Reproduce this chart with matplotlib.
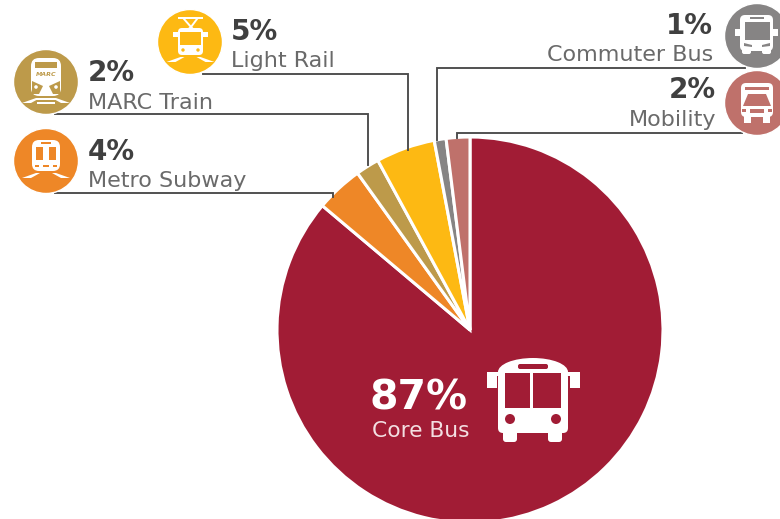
import matplotlib
matplotlib.use("Agg")
import matplotlib.pyplot as plt
from matplotlib.patches import Circle, Ellipse, Rectangle, FancyBboxPatch, Polygon

plt.rcParams['font.family'] = ['DejaVu Sans']

categories = ["Core Bus", "Metro Subway", "MARC Train", "Light Rail", "Commuter Bus", "Mobility"]
values = [87, 4, 2, 5, 1, 2]
colors = ["#a11c35", "#ee8727", "#bd9a4a", "#fdb913", "#868484", "#bf716b"]

LINE = "#4a4a4a"
DARK = "#404040"
GREY = "#6a6a6a"


def rrect(ax, x0, y0, x1, y1, r, color, z=5):
    ax.add_patch(FancyBboxPatch((x0 + r, y0 + r), x1 - x0 - 2 * r, y1 - y0 - 2 * r,
                                boxstyle="round,pad=%f,rounding_size=%f" % (r, r),
                                fc=color, ec="none", zorder=z))


def rect(ax, x0, y0, x1, y1, color, z=5):
    ax.add_patch(Rectangle((x0, y0), x1 - x0, y1 - y0, fc=color, ec="none", zorder=z))


def tracks(ax, cx, y0, y1, c="white"):
    # little rails under the train icons
    ax.add_patch(Polygon([(cx - 10, y0), (cx - 6, y0), (cx - 15, y1), (cx - 24, y1)], fc=c, ec="none", zorder=5))
    ax.add_patch(Polygon([(cx + 10, y0), (cx + 6, y0), (cx + 15, y1), (cx + 24, y1)], fc=c, ec="none", zorder=5))


def big_bus(ax):
    w = "white"
    c = colors[0]
    ax.add_patch(Ellipse((533, 372), 70, 28, fc=w, ec="none", zorder=5))
    rrect(ax, 498, 372, 568, 433, 5, w, 5)
    rrect(ax, 503, 425, 517, 442, 3, w, 5)
    rrect(ax, 548, 425, 562, 442, 3, w, 5)
    rect(ax, 487, 372, 497, 388, w)
    rect(ax, 570, 372, 580, 388, w)
    rect(ax, 495, 372, 500, 376, w)
    rect(ax, 567, 372, 572, 376, w)
    rect(ax, 505, 373, 530, 408, c, 6)
    rect(ax, 533, 373, 561, 408, c, 6)
    rrect(ax, 518, 364, 548, 369, 2, c, 6)
    ax.add_patch(Circle((510, 419), 5, fc=c, ec="none", zorder=6))
    ax.add_patch(Circle((556, 419), 5, fc=c, ec="none", zorder=6))


def light_rail_icon(ax, cx, cy):
    w = "white"
    c = colors[3]
    rect(ax, cx - 12, cy - 25, cx + 13, cy - 23, w)
    ax.plot([cx - 6, cx + 1, cx + 7], [cy - 23, cy - 15, cy - 23], color=w, lw=1.4, zorder=5)
    ax.plot([cx - 4, cx + 1, cx + 5], [cy - 11, cy - 15, cy - 11], color=w, lw=1.4, zorder=5)
    rrect(ax, cx - 12, cy - 14, cx + 13, cy + 13, 4, w)
    rect(ax, cx - 17, cy - 10, cx - 12, cy - 5, w)
    rect(ax, cx + 13, cy - 10, cx + 18, cy - 5, w)
    rect(ax, cx - 10, cy - 10, cx + 11, cy + 3, c, 6)
    ax.add_patch(Circle((cx - 7, cy + 8), 1.7, fc=c, ec="none", zorder=6))
    ax.add_patch(Circle((cx + 8, cy + 8), 1.7, fc=c, ec="none", zorder=6))
    tracks(ax, cx + 0.5, cy + 15, cy + 20)


def marc_icon(ax, cx, cy):
    w = "white"
    c = colors[2]
    rrect(ax, cx - 15, cy - 24, cx + 15, cy + 14, 8, w)
    rect(ax, cx - 11, cy - 20, cx + 11, cy - 14, c, 6)
    ax.text(cx + 0.5, cy - 8, "MARC", color=c, fontsize=4.5, fontweight="bold", style="italic",
            ha="center", va="center", zorder=7)
    ax.add_patch(Polygon([(cx - 14, cy - 1), (cx - 3, cy + 4), (cx - 7, cy + 12), (cx - 14, cy + 12)], fc=c, ec="none", zorder=6))
    ax.add_patch(Polygon([(cx + 14, cy - 1), (cx + 3, cy + 4), (cx + 7, cy + 12), (cx + 14, cy + 12)], fc=c, ec="none", zorder=6))
    ax.add_patch(Circle((cx - 10, cy + 5), 1.8, fc=w, ec="none", zorder=7))
    ax.add_patch(Circle((cx + 10, cy + 5), 1.8, fc=w, ec="none", zorder=7))
    rect(ax, cx - 10, cy + 16, cx + 10, cy + 18, w)
    rect(ax, cx - 9, cy + 20, cx + 9, cy + 21.5, w)
    tracks(ax, cx, cy + 16, cy + 21)


def subway_icon(ax, cx, cy):
    w = "white"
    c = colors[1]
    rrect(ax, cx - 14, cy - 21, cx + 14, cy + 10, 7, w)
    rect(ax, cx - 10, cy - 14, cx - 3, cy - 1, c, 6)
    rect(ax, cx + 3, cy - 14, cx + 10, cy - 1, c, 6)
    rect(ax, cx - 5, cy - 19, cx + 5, cy - 17, c, 6)
    rect(ax, cx - 11, cy + 4, cx - 7, cy + 6, c, 6)
    rect(ax, cx + 7, cy + 4, cx + 11, cy + 6, c, 6)
    rect(ax, cx - 3, cy + 4, cx + 3, cy + 6, c, 6)
    tracks(ax, cx, cy + 12, cy + 17)


def commuter_icon(ax, cx, cy):
    w = "white"
    c = colors[4]
    rrect(ax, cx - 17, cy - 21, cx + 16, cy + 15, 5, w)
    rrect(ax, cx - 15, cy + 10, cx - 6, cy + 18, 2, w)
    rrect(ax, cx + 5, cy + 10, cx + 14, cy + 18, 2, w)
    rect(ax, cx - 22, cy - 7, cx - 17, cy, w)
    rect(ax, cx + 16, cy - 7, cx + 21, cy, w)
    rect(ax, cx - 12, cy - 14, cx + 13, cy + 4, c, 6)
    rect(ax, cx - 7, cy - 19, cx + 7, cy - 17, c, 6)
    ax.add_patch(Polygon([(cx - 13, cy + 7), (cx - 5, cy + 9), (cx - 5, cy + 11), (cx - 13, cy + 10)], fc=c, ec="none", zorder=6))
    ax.add_patch(Polygon([(cx + 13, cy + 7), (cx + 5, cy + 9), (cx + 5, cy + 11), (cx + 13, cy + 10)], fc=c, ec="none", zorder=6))


def mobility_icon(ax, cx, cy):
    w = "white"
    c = colors[5]
    rrect(ax, cx - 16, cy - 20, cx + 16, cy + 14, 5, w)
    rect(ax, cx - 13, cy + 12, cx - 6, cy + 20, w)
    rect(ax, cx + 6, cy + 12, cx + 13, cy + 20, w)
    rect(ax, cx - 12, cy - 16, cx + 12, cy - 13, c, 6)
    ax.add_patch(Polygon([(cx - 9, cy - 9), (cx + 9, cy - 9), (cx + 14, cy + 3), (cx - 14, cy + 3)], fc=c, ec="none", zorder=6))
    rect(ax, cx - 7, cy + 6, cx + 7, cy + 10, c, 6)
    rect(ax, cx - 15, cy + 6, cx - 11, cy + 9, c, 6)
    rect(ax, cx + 11, cy + 6, cx + 15, cy + 9, c, 6)


fig = plt.figure(figsize=(7.8, 5.19), dpi=100)
ax = fig.add_axes([0, 0, 1, 1])

ax.pie(values, colors=colors, startangle=90, counterclock=False, center=(470, -330), radius=193,
       wedgeprops=dict(edgecolor="white", linewidth=2.2), frame=False)
ax.set_aspect("auto")
ax.set_xlim(0, 780)
ax.set_ylim(-519, 0)
ax.axis("off")

# from here on use pixel coords with y down
px = ax.inset_axes([0, 0, 1, 1], zorder=3)
px.set_xlim(0, 780)
px.set_ylim(519, 0)
px.axis("off")
px.patch.set_alpha(0)

leaders = [
    ([203, 408, 408], [74, 74, 150]),
    ([55, 368, 368], [114, 114, 165]),
    ([55, 333, 333], [193, 193, 197]),
    ([745, 437, 437], [67.5, 67.5, 140]),
    ([742, 457, 457], [132.5, 132.5, 138]),
]
for xs, ys in leaders:
    px.plot(xs, ys, color=LINE, lw=1.35, solid_joinstyle="miter", zorder=2)

badges = [(190, 42, 3), (46, 82, 2), (46, 161, 1), (757, 36, 4), (757, 103, 5)]
for cx, cy, i in badges:
    px.add_patch(Circle((cx, cy), 32.5, fc=colors[i], ec="white", lw=1, zorder=4))

light_rail_icon(px, 190, 42)
marc_icon(px, 46, 82)
subway_icon(px, 46, 161)
commuter_icon(px, 757, 36)
mobility_icon(px, 757, 103)
big_bus(px)

labels = [
    (231, 40, 67, "left", 3),
    (88, 81, 109, "left", 2),
    (88, 160, 187, "left", 1),
    (713, 34, 61, "right", 4),
    (716, 98, 126, "right", 5),
]
for x, y_pct, y_name, ha, i in labels:
    px.text(x, y_pct, "%d%%" % values[i], fontsize=20, fontweight="bold", color=DARK, ha=ha, va="baseline", zorder=5)
    px.text(x, y_name, categories[i], fontsize=16, color=GREY, ha=ha, va="baseline", zorder=5)

px.text(468, 410, "%d%%" % values[0], fontsize=29.5, fontweight="bold", color="white", ha="right", va="baseline", zorder=5)
px.text(469, 437, categories[0], fontsize=15.7, color="#f3dfe2", ha="right", va="baseline", zorder=5)

fig.savefig("out.png", dpi=100)
